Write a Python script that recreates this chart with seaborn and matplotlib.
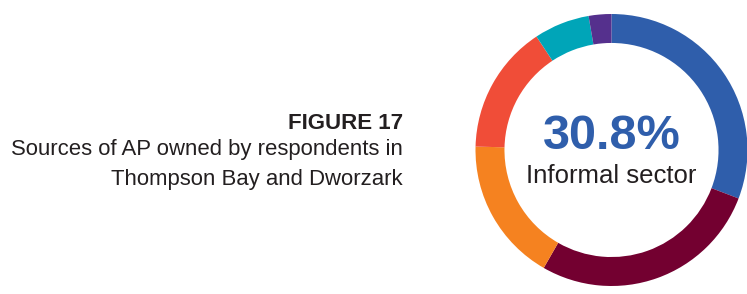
import matplotlib.pyplot as plt
import seaborn as sns

# share of each source (%), clockwise from 12 o'clock
shares = [30.8, 27.5, 17.1, 15.3, 6.6, 2.7]
colors = ["#2F5EAB", "#730030", "#F58220", "#F04D38", "#00A5B8", "#55308D"]
center_value = "30.8%"
center_label = "Informal sector"
fig_label = "FIGURE 17"
title_lines = ["Sources of AP owned by respondents in", "Thompson Bay and Dworzark"]

sns.set_theme(style="white")
plt.rcParams["font.family"] = ["Liberation Sans", "DejaVu Sans"]

W, H = 747, 294
fig = plt.figure(figsize=(W / 100, H / 100), dpi=100)
fig.patch.set_facecolor("white")

cx, cy, r = 611.5, 150, 136
ax = fig.add_axes([(cx - r) / W, (H - cy - r) / H, 2 * r / W, 2 * r / H])
ax.pie(shares, colors=sns.color_palette(colors), startangle=90, counterclock=False,
       radius=1, wedgeprops=dict(width=0.213, edgecolor="none", linewidth=0))
ax.set_xlim(-1, 1)
ax.set_ylim(-1, 1)
ax.set_aspect("equal")
ax.axis("off")

ax.text(0, 0.10, center_value, ha="center", va="center", fontsize=35,
        fontweight="bold", color="#2F5EAB")
ax.text(0, -0.19, center_label, ha="center", va="center", fontsize=18.5,
        color="#231F20")

tx = 403 / W
fig.text(tx, 1 - 129 / H, fig_label, ha="right", va="baseline", fontsize=16,
         fontweight="bold", color="#231F20")
fig.text(tx, 1 - 155 / H, title_lines[0], ha="right", va="baseline", fontsize=15.9,
         color="#231F20")
fig.text(tx, 1 - 185 / H, title_lines[1], ha="right", va="baseline", fontsize=15.9,
         color="#231F20")

fig.savefig("out.png", dpi=100, facecolor="white")
